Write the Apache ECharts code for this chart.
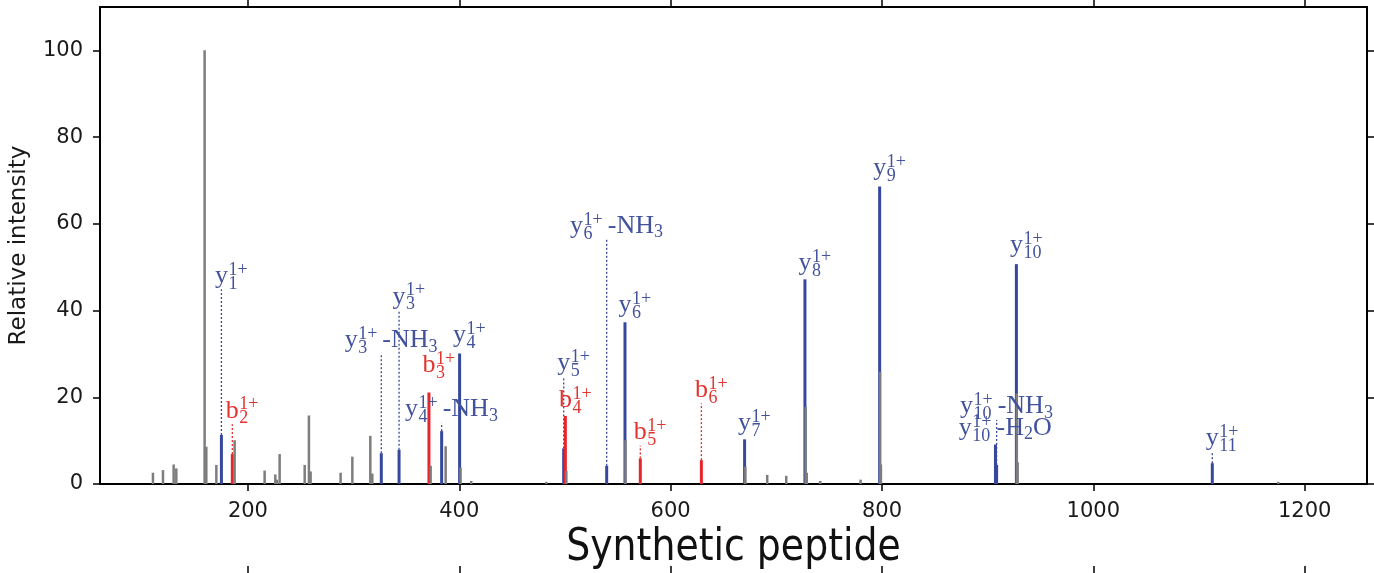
<!DOCTYPE html>
<html>
<head>
<meta charset="utf-8">
<script src="https://cdn.jsdelivr.net/npm/echarts@6/dist/echarts.min.js"></script>
<style>
  html, body { margin: 0; padding: 0; background: #fff; }
  #chart { width: 1374px; height: 573px; }
</style>
</head>
<body>
<div id="chart"></div>
<script>
// Unassigned peaks: m/z and relative intensity
const otherMz = [110.1, 119.6, 129.7, 132.2, 159.0, 160.6, 170.1, 187.4, 215.8, 225.9,
                 227.4, 230.0, 253.7, 257.7, 259.3, 287.7, 298.8, 315.8, 317.7, 372.9,
                 387.1, 401.2, 411.3, 482.3, 501.3, 557.3, 670.7, 691.4, 709.4, 727.8,
                 728.8, 741.6, 779.8, 798.2, 799.0, 927.6, 928.4, 1175.0];
const otherInt = [2.6, 3.2, 4.5, 3.6, 100, 8.6, 4.4, 10.1, 3.1, 2.2,
                  1.0, 6.9, 4.4, 15.8, 2.9, 2.6, 6.3, 11.1, 2.4, 4.2,
                  8.7, 3.8, 0.7, 0.5, 3.0, 10.1, 4.0, 2.1, 1.9, 17.8,
                  2.6, 0.7, 1.0, 25.9, 4.5, 20.9, 5.0, 0.5];

// Assigned fragment ions
const ionType  = ['y', 'b', 'y', 'y', 'b', 'y', 'y', 'y', 'b', 'y',
                  'y', 'b', 'b', 'y', 'y', 'y', 'y', 'y', 'y', 'y'];
const ionIndex = ['1', '2', '3', '3', '3', '4', '4', '5', '4', '6',
                  '6', '5', '6', '7', '8', '9', '10', '10', '10', '11'];
const ionLoss  = ['', '', 'NH3', '', '', 'NH3', '', '', '', 'NH3',
                  '', '', '', '', '', '', 'H2O', 'NH3', '', ''];
const ionMz    = [174.9, 185.2, 326.2, 343.0, 371.3, 383.3, 400.3, 498.8, 500.4, 539.5,
                  556.8, 571.3, 629.1, 670.0, 727.1, 797.8, 907.4, 908.5, 927.2, 1112.6];
const ionInt   = [11.3, 6.9, 7.1, 7.9, 21.1, 12.2, 30.1, 8.2, 15.7, 4.2,
                  37.3, 5.9, 5.5, 10.3, 47.2, 68.6, 9.1, 4.4, 50.7, 4.8];
// Height (relative intensity) at which each ion label sits, and whether a leader joins it to its peak
const labelLevel = [44.9, 13.8, 30.0, 40.1, 24.4, 14.1, 31.3, 24.8, 16.3, 56.4,
                    38.2, 8.8, 18.6, 10.9, 47.8, 69.7, 9.8, 14.8, 51.9, 7.5];
const hasLeader  = [true, true, true, true, false, true, false, true, false, true,
                    false, true, true, false, false, false, false, true, false, true];
const chargeTag = '1+';

const xTicks = [200, 400, 600, 800, 1000, 1200];
const yTicks = [0, 20, 40, 60, 80, 100];

const BLUE = '#36489e', RED = '#e6262c', GREY = '#7d7d7d';
const BLUE_TEXT = '#43529c', RED_TEXT = '#e2342f';
const SERIF = '"Liberation Serif", "Times New Roman", serif';
const BASE_FS = 26, SCRIPT_FS = 18;

const measureCtx = document.createElement('canvas').getContext('2d');
function textWidth(s, fs) {
  measureCtx.font = fs + 'px ' + SERIF;
  return measureCtx.measureText(s).width;
}

// split a neutral loss such as "NH3" into normal text and subscript digits
function lossPieces(loss) {
  if (!loss) return [];
  const parts = ('-' + loss).match(/[^0-9]+|[0-9]+/g);
  return parts.map(p => ({ text: p, sub: /^[0-9]+$/.test(p) }));
}

function txt(text, x, baseline, fs, color) {
  return {
    type: 'text', x: x, y: baseline - 0.3 * fs,
    style: { text: text, fontSize: fs, fontFamily: SERIF, fill: color, align: 'left', verticalAlign: 'middle' }
  };
}

function stick(color, width) {
  return function (params, api) {
    const top = api.coord([api.value(0), api.value(1)]);
    const base = api.coord([api.value(0), 0]);
    return {
      type: 'line',
      shape: { x1: top[0], y1: top[1], x2: base[0], y2: base[1] },
      style: { stroke: color, lineWidth: width }
    };
  };
}

function renderLeader(params, api) {
  const i = api.value(2);
  const a = api.coord([ionMz[i], ionInt[i]]);
  const b = api.coord([ionMz[i], labelLevel[i]]);
  return {
    type: 'line',
    shape: { x1: a[0], y1: a[1], x2: b[0], y2: b[1] },
    style: { stroke: ionType[i] === 'b' ? RED : BLUE, lineWidth: 1.3, lineDash: [2, 2] }
  };
}

function renderLabel(params, api) {
  const i = params.dataIndex;
  const p = api.coord([ionMz[i], labelLevel[i]]);
  const color = ionType[i] === 'b' ? RED_TEXT : BLUE_TEXT;
  const wBase = textWidth(ionType[i], BASE_FS);
  const wSub = textWidth(ionIndex[i], SCRIPT_FS);
  const wSup = textWidth(chargeTag, SCRIPT_FS);
  const pieces = lossPieces(ionLoss[i]);
  let wLoss = 0;
  pieces.forEach(pc => { wLoss += textWidth(pc.text, pc.sub ? SCRIPT_FS : BASE_FS); });
  const gap = pieces.length ? 5 : 0;
  const baseline = p[1] - 5.5;
  let x = p[0] - (wBase + wLoss + gap) / 2;
  const children = [];
  children.push(txt(ionType[i], x, baseline, BASE_FS, color));
  x += wBase + 0.5;
  children.push(txt(chargeTag, x, baseline - 8.5, SCRIPT_FS, color));
  children.push(txt(ionIndex[i], x, baseline + 5.5, SCRIPT_FS, color));
  x += Math.max(wSub, wSup) + gap;
  pieces.forEach(pc => {
    const fs = pc.sub ? SCRIPT_FS : BASE_FS;
    children.push(txt(pc.text, x, pc.sub ? baseline + 4 : baseline, fs, color));
    x += textWidth(pc.text, fs);
  });
  return { type: 'group', children: children };
}

const otherData = otherMz.map((m, i) => [m, otherInt[i]]);
const blueData = [], redData = [];
ionMz.forEach((m, i) => (ionType[i] === 'b' ? redData : blueData).push([m, ionInt[i]]));
const leaderData = [];
ionMz.forEach((m, i) => { if (hasLeader[i]) leaderData.push([m, labelLevel[i], i]); });
const labelData = ionMz.map((m, i) => [m, labelLevel[i]]);

const frameLine = { show: true, onZero: false, lineStyle: { color: '#000', width: 2 } };
const outTick = (vals) => ({ show: true, inside: false, length: 7, customValues: vals, lineStyle: { color: '#000', width: 1.5 } });
const tickFont = { fontFamily: 'DejaVu Sans', fontSize: 21, color: '#1a1a1a', formatter: v => String(v) };

const chart = echarts.init(document.getElementById('chart'), null, { renderer: 'canvas' });
chart.setOption({
  animation: false,
  backgroundColor: '#fff',
  grid: { left: 100, right: 7, top: 7, bottom: 89, containLabel: false, outerBoundsMode: 'none' },
  xAxis: [
    { type: 'value', min: 60, max: 1259, position: 'bottom', axisLine: frameLine, axisTick: outTick(xTicks),
      axisLabel: Object.assign({ customValues: xTicks, margin: 17 }, tickFont), splitLine: { show: false } },
    { type: 'value', min: 60, max: 1259, position: 'top', axisLine: frameLine, axisTick: outTick(xTicks),
      axisLabel: { show: false }, splitLine: { show: false } },
    { type: 'value', min: 60, max: 1259, position: 'bottom', offset: 89, axisLine: { show: false, onZero: false },
      axisTick: { show: true, inside: true, length: 7, customValues: xTicks, lineStyle: { color: '#000', width: 1.5 } },
      axisLabel: { show: false }, splitLine: { show: false } }
  ],
  yAxis: [
    { type: 'value', min: 0, max: 110, position: 'left', axisLine: frameLine, axisTick: outTick(yTicks),
      axisLabel: Object.assign({ customValues: yTicks, margin: 17 }, tickFont), splitLine: { show: false },
      name: 'Relative intensity', nameLocation: 'middle', nameRotate: 90, nameGap: 69,
      nameTextStyle: { fontFamily: 'DejaVu Sans', fontSize: 23, color: '#1a1a1a' } },
    { type: 'value', min: 0, max: 110, position: 'right', axisLine: frameLine, axisTick: outTick(yTicks),
      axisLabel: { show: false }, splitLine: { show: false } }
  ],
  graphic: [{
    type: 'text', x: 733.5, y: 549, scaleX: 0.86,
    style: { text: 'Synthetic peptide', fontFamily: 'DejaVu Sans', fontSize: 44, fill: '#111', align: 'center', verticalAlign: 'middle' }
  }],
  series: [
    { type: 'custom', name: 'leaders', data: leaderData, renderItem: renderLeader, z: 1, silent: true },
    { type: 'custom', name: 'y ions', data: blueData, renderItem: stick(BLUE, 3), z: 2, silent: true },
    { type: 'custom', name: 'b ions', data: redData, renderItem: stick(RED, 3), z: 2, silent: true },
    { type: 'custom', name: 'unassigned', data: otherData, renderItem: stick(GREY, 2.5), z: 3, silent: true },
    { type: 'custom', name: 'labels', data: labelData, renderItem: renderLabel, z: 4, silent: true }
  ]
});
</script>
</body>
</html>
